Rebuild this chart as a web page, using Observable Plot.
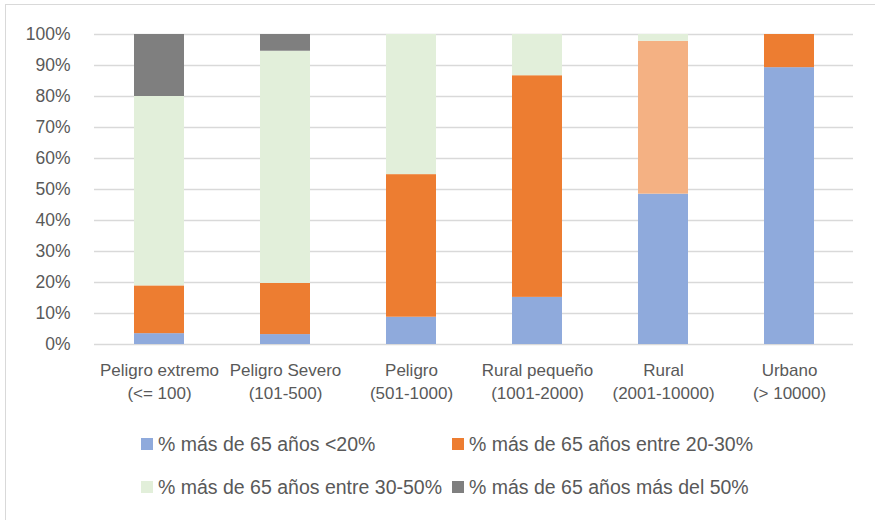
<!DOCTYPE html>
<html>
<head>
<meta charset="utf-8">
<script src="https://cdn.jsdelivr.net/npm/d3@7"></script>
<script src="https://cdn.jsdelivr.net/npm/@observablehq/plot@0.6"></script>
<style>
  html, body { margin: 0; padding: 0; background: #fff; }
  #wrap { position: relative; width: 875px; height: 520px; overflow: hidden;
          font-family: "Liberation Sans", Arial, sans-serif; color: #595959; }
  #frame { position: absolute; left: 5px; top: 4px; width: 900px; height: 560px;
           border-left: 1.5px solid #D9D9D9; border-top: 1.5px solid #D9D9D9; }
  #chart { position: absolute; left: 0; top: 0; }
  #legend { position: absolute; left: 141px; top: 432px; width: 700px;
            display: grid; grid-template-columns: 311px auto; row-gap: 19px;
            font-size: 19.5px; line-height: 24px; }
  .item { display: flex; align-items: center; white-space: nowrap; }
  .sw { width: 12px; height: 12px; margin-right: 5px; flex: none; }
</style>
</head>
<body>
<div id="wrap">
  <div id="frame"></div>
  <div id="chart"></div>
  <div id="legend"></div>
</div>
<script>
// Municipality size groups (population ranges)
const categories = [
  "Peligro extremo\n(<= 100)",
  "Peligro Severo\n(101-500)",
  "Peligro\n(501-1000)",
  "Rural pequeño\n(1001-2000)",
  "Rural\n(2001-10000)",
  "Urbano\n(> 10000)"
];

// Share of municipalities by proportion of population over 65 (percent)
const seriesNames = [
  "% más de 65 años <20%",
  "% más de 65 años entre 20-30%",
  "% más de 65 años entre 30-50%",
  "% más de 65 años más del 50%"
];
const under20   = [3.5, 3.2, 8.8, 15.2, 48.5, 89.3];
const from20to30 = [15.4, 16.5, 46.0, 71.5, 49.3, 10.7];
const from30to50 = [61.1, 74.9, 45.2, 13.3, 2.2, 0];
const over50    = [20.0, 5.4, 0, 0, 0, 0];
const seriesValues = [under20, from20to30, from30to50, over50];

const seriesColors = ["#8FAADC", "#ED7D31", "#E2EFDA", "#7F7F7F"];
// The 20-30% segment of the "Rural" group is shown in a lighter tone
const highlightCategory = categories[4];
const highlightSeries = seriesNames[1];
const highlightColor = "#F4B183";

const yTicks = [0, 10, 20, 30, 40, 50, 60, 70, 80, 90, 100];

const tones = [...seriesNames, "destacado"];
const toneColors = [...seriesColors, highlightColor];

const rows = [];
seriesNames.forEach((s, si) => {
  categories.forEach((c, ci) => {
    const v = seriesValues[si][ci];
    if (v > 0) {
      rows.push({
        category: c,
        series: s,
        value: v / 100,
        tone: (c === highlightCategory && s === highlightSeries) ? "destacado" : s
      });
    }
  });
});

const font = '"Liberation Sans", Arial, sans-serif';

const chart = Plot.plot({
  width: 875,
  height: 420,
  marginTop: 34,
  marginBottom: 76,
  marginLeft: 94,
  marginRight: 22,
  style: { fontFamily: font, color: "#595959", background: "transparent", overflow: "visible" },
  x: { domain: categories, paddingInner: 0.605, paddingOuter: 0.3025, label: null },
  y: { domain: [0, 1], label: null },
  color: { domain: tones, range: toneColors },
  marks: [
    Plot.gridY(yTicks.map(t => t / 100), { stroke: "#D9D9D9", strokeOpacity: 1, strokeWidth: 1.4 }),
    Plot.barY(rows, { x: "category", y: "value", fill: "tone" }),
    Plot.axisY(yTicks.map(t => t / 100), {
      tickSize: 0, tickPadding: 24, fontSize: 17.5, fill: "#595959",
      tickFormat: d => Math.round(d * 100) + "%", label: null
    }),
    Plot.axisX({
      tickSize: 0, tickPadding: 15, fontSize: 17, fill: "#595959",
      lineHeight: 1.35, label: null
    })
  ]
});
document.getElementById("chart").appendChild(chart);

// Legend, two columns
const legend = d3.select("#legend");
seriesNames.forEach((s, i) => {
  const item = legend.append("div").attr("class", "item");
  item.append("span").attr("class", "sw").style("background", seriesColors[i]);
  item.append("span").text(s);
});
</script>
</body>
</html>
